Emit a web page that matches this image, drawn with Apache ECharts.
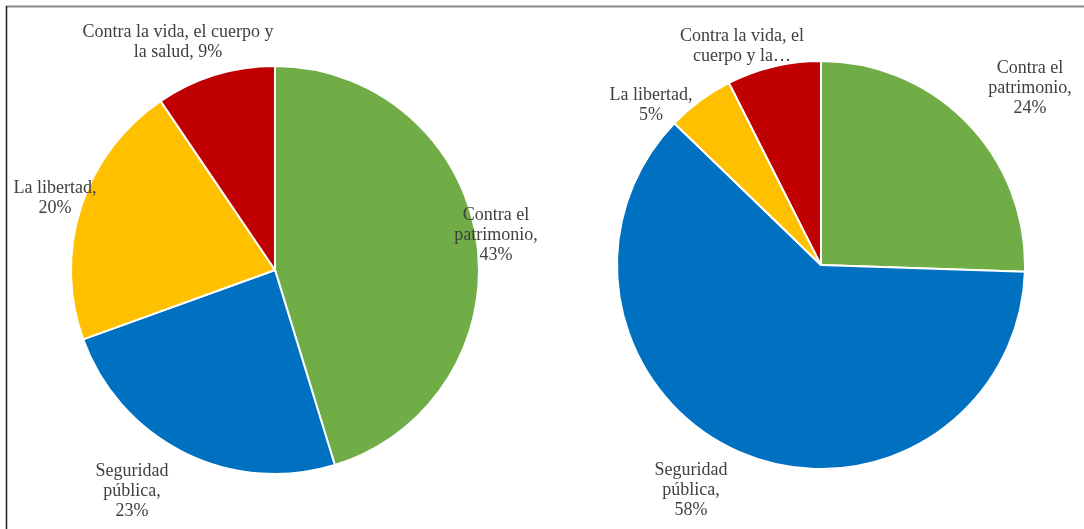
<!DOCTYPE html>
<html>
<head>
<meta charset="utf-8">
<script src="https://cdn.jsdelivr.net/npm/echarts@6/dist/echarts.min.js"></script>
<style>
  html, body { margin: 0; padding: 0; background: #ffffff; }
  #chart { width: 1084px; height: 529px; }
</style>
</head>
<body>
<div id="chart"></div>
<script>
// Categories of offences, in drawing order (clockwise from 12 o'clock)
const categories = ['Contra el patrimonio', 'Seguridad pública', 'La libertad', 'Contra la vida, el cuerpo y la salud'];
const colors = ['#70AD47', '#0070C0', '#FFC000', '#C00000'];

// Percentages per group
const leftValues = [43, 23, 20, 9];
const rightValues = [24, 58, 5, 7];

// Wrapped label text; {v} is replaced with the slice value
const leftLabelText = [
  'Contra el\npatrimonio,\n{v}%',
  'Seguridad\npública,\n{v}%',
  'La libertad,\n{v}%',
  'Contra la vida, el cuerpo y\nla salud, {v}%'
];
const rightLabelText = [
  'Contra el\npatrimonio,\n{v}%',
  'Seguridad\npública,\n{v}%',
  'La libertad,\n{v}%',
  'Contra la vida, el\ncuerpo y la…'
];

// Pie geometry
const leftCenter = [275, 270];
const rightCenter = [821, 265];
const pieRadius = 204;

// Label anchor offsets from each pie's centre
const leftLabelOffset = [[221, -35], [-143, 221], [-220, -72], [-97, -228]];
const rightLabelOffset = [[209, -177], [-130, 225], [-170, -160], [-79, -219]];

function buildData(values) {
  return values.map((v, i) => ({ name: categories[i], value: v, itemStyle: { color: colors[i] } }));
}

function pieSeries(values, center, texts, offsets) {
  return {
    type: 'pie',
    center: center,
    radius: pieRadius,
    startAngle: 90,
    clockwise: true,
    avoidLabelOverlap: false,
    animation: false,
    data: buildData(values),
    itemStyle: { borderColor: '#ffffff', borderWidth: 2 },
    label: {
      show: true,
      position: 'outside',
      formatter: p => texts[p.dataIndex].replace('{v}', p.value),
      fontFamily: 'Liberation Serif',
      fontSize: 18,
      lineHeight: 20,
      color: '#404040',
      align: 'center'
    },
    labelLine: { show: false },
    labelLayout: p => ({
      x: center[0] + offsets[p.dataIndex][0],
      y: center[1] + offsets[p.dataIndex][1],
      align: 'center',
      verticalAlign: 'middle'
    }),
    emphasis: { disabled: true }
  };
}

const chart = echarts.init(document.getElementById('chart'), null, { renderer: 'canvas' });
chart.setOption({
  backgroundColor: '#ffffff',
  animation: false,
  graphic: [
    { type: 'line', shape: { x1: 6, y1: 6.5, x2: 1084, y2: 6.5 }, style: { stroke: '#8a8a8a', lineWidth: 2 } },
    { type: 'line', shape: { x1: 6.5, y1: 6, x2: 6.5, y2: 529 }, style: { stroke: '#1e1e1e', lineWidth: 1.5 } }
  ],
  series: [
    pieSeries(leftValues, leftCenter, leftLabelText, leftLabelOffset),
    pieSeries(rightValues, rightCenter, rightLabelText, rightLabelOffset)
  ]
});
</script>
</body>
</html>
